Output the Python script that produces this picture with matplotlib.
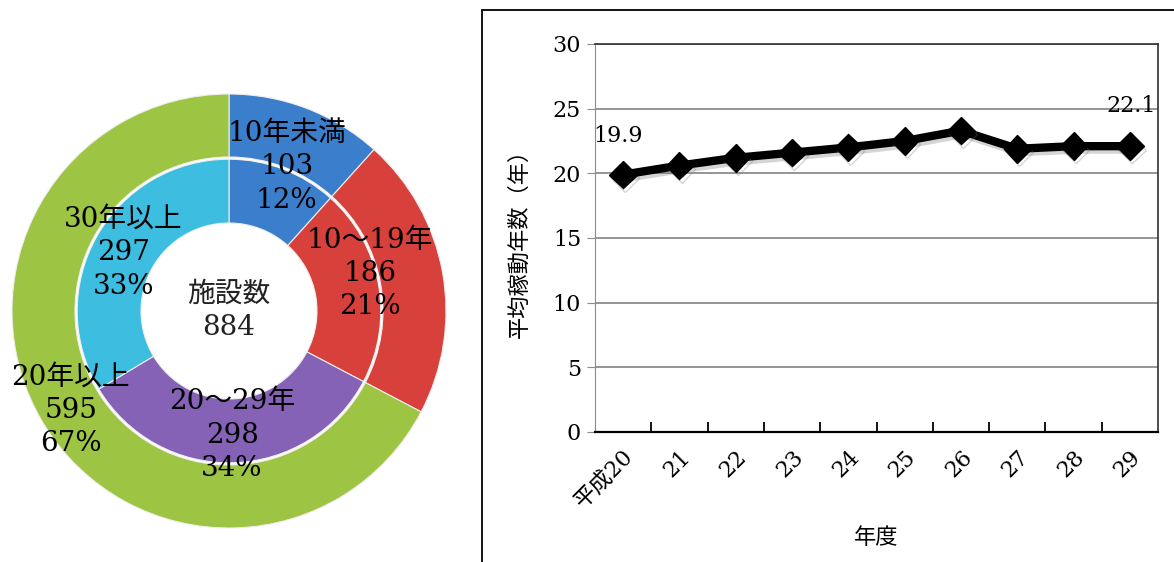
import matplotlib
matplotlib.use("Agg")
import matplotlib.pyplot as plt
import matplotlib.patheffects as pe
from matplotlib.patches import Rectangle
from matplotlib.ticker import FixedLocator

plt.rcParams['font.family'] = ['DejaVu Serif', 'Noto Sans CJK JP']

# --- donut data ---
outer_labels = ['10年未満', '10～19年', '20年以上']
outer_counts = [103, 186, 595]
outer_pcts = [12, 21, 67]
outer_colors = ['#3b7fcc', '#d8403b', '#9dc443']

inner_labels = ['10年未満', '10～19年', '20～29年', '30年以上']
inner_counts = [103, 186, 298, 297]
inner_pcts = [12, 21, 34, 33]
inner_colors = ['#3b7fcc', '#d8403b', '#8562b6', '#3dbde0']

total_label = '施設数'
total_count = 884

# --- line data ---
years = ['平成20', '21', '22', '23', '24', '25', '26', '27', '28', '29']
avg_years = [19.9, 20.6, 21.2, 21.6, 22.0, 22.5, 23.3, 21.9, 22.1, 22.1]

W, H = 1174, 562
fig = plt.figure(figsize=(W / 100, H / 100), dpi=100)

# donut
cx, cy, half = 229, 311, 220
ax1 = fig.add_axes([(cx - half) / W, 1 - (cy + half) / H, 2 * half / W, 2 * half / H])
r_out, r_mid, r_in = 217 / half, 154 / half, 88 / half
ax1.pie(outer_counts, radius=r_out, colors=outer_colors, startangle=90, counterclock=False,
        wedgeprops=dict(width=r_out - r_mid, edgecolor='#eeeeee', linewidth=0.8))
ax1.pie(inner_counts, radius=r_mid - 0.01, colors=inner_colors, startangle=90, counterclock=False,
        wedgeprops=dict(width=r_mid - 0.01 - r_in, edgecolor='#eeeeee', linewidth=0.8))
ax1.set_xlim(-1, 1)
ax1.set_ylim(-1, 1)
ax1.set_aspect('equal')
ax1.axis('off')

# label spots (data coords inside donut axes)
label_spots = {
    '10年未満': (0.262, 0.655),
    '10～19年': (0.64, 0.17),
    '20～29年': (0.014, -0.564),
    '30年以上': (-0.48, 0.265),
}
txt_kw = dict(ha='center', va='center', fontsize=20, linespacing=1.3, color='black')
for lab, n, p in zip(inner_labels, inner_counts, inner_pcts):
    x, y = label_spots[lab]
    ax1.text(x, y, f"{lab}\n{n}\n{p}%", **txt_kw)
ax1.text(-0.72, -0.45, f"{outer_labels[2]}\n{outer_counts[2]}\n{outer_pcts[2]}%", **txt_kw)
ax1.text(0, 0, f"{total_label}\n{total_count}", ha='center', va='center',
         fontsize=20, linespacing=1.3, color='#222222')

# line chart
x0, x1, ytop, ybot = 595, 1158, 44, 432
ax2 = fig.add_axes([x0 / W, 1 - ybot / H, (x1 - x0) / W, (ybot - ytop) / H])
xs = list(range(len(years)))
ax2.plot(xs, avg_years, color='black', lw=6, marker='D', markersize=14,
         path_effects=[pe.SimpleLineShadow(offset=(1.5, -2.5), shadow_color='#777777', alpha=0.3),
                       pe.Normal()], zorder=3)
ax2.set_xlim(-0.5, len(years) - 0.5)
ax2.set_ylim(0, 30)
ax2.set_yticks(range(0, 31, 5))
ax2.yaxis.grid(True, color='#8c8c8c', lw=1.3)
ax2.set_axisbelow(True)
ax2.tick_params(axis='y', labelsize=16, direction='out', length=6, color='#8c8c8c', pad=4)
ax2.set_xticks(xs)
ax2.set_xticklabels(years, rotation=45, ha='right', va='top', rotation_mode='anchor', fontsize=16)
ax2.tick_params(axis='x', which='major', length=0, pad=10)
ax2.xaxis.set_minor_locator(FixedLocator([i + 0.5 for i in range(len(years) - 1)]))
ax2.tick_params(axis='x', which='minor', direction='in', length=7, width=1.3, color='black')
ax2.spines['left'].set_color('#8c8c8c')
ax2.spines['bottom'].set_color('black')
ax2.spines['bottom'].set_linewidth(1.6)
for s in ('top', 'right'):
    ax2.spines[s].set_color('#303030')
    ax2.spines[s].set_linewidth(1.2)
ax2.set_ylabel('平均稼動年数（年）', fontsize=16, labelpad=16)
ax2.set_xlabel('年度', fontsize=16, labelpad=10)

ax2.annotate(f"{avg_years[0]}", (xs[0], avg_years[0]), xytext=(-4, 28), textcoords='offset points',
             ha='center', va='center', fontsize=16)
ax2.annotate(f"{avg_years[-1]}", (xs[-1], avg_years[-1]), xytext=(1, 29), textcoords='offset points',
             ha='center', va='center', fontsize=16)

# frame around right panel
fig.add_artist(Rectangle((482 / W, -0.02), 1, 1 - 10 / H + 0.02, transform=fig.transFigure,
                         fill=False, edgecolor='black', lw=1.3))

fig.savefig('out.png', dpi=100)
